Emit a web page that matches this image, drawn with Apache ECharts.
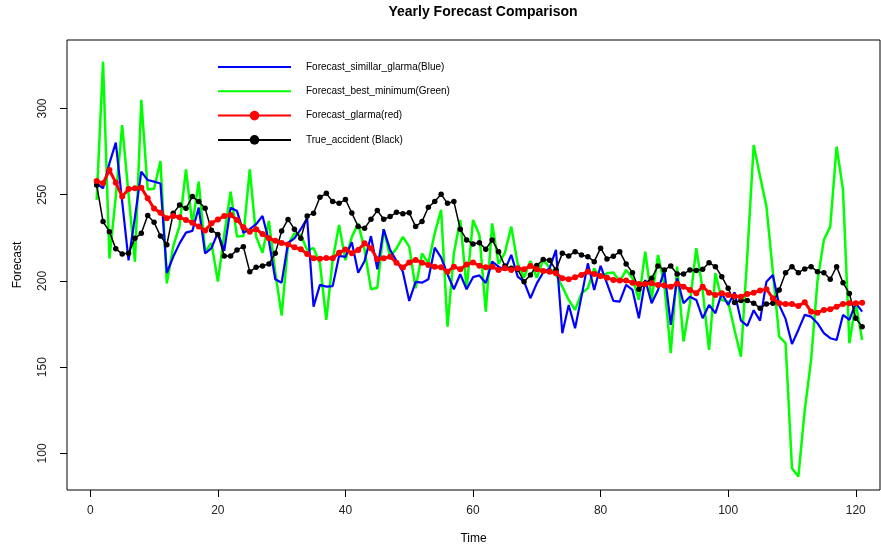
<!DOCTYPE html>
<html>
<head>
<meta charset="utf-8">
<script src="https://cdn.jsdelivr.net/npm/echarts@6/dist/echarts.min.js"></script>
<style>
  html, body { margin: 0; padding: 0; background: #fff; }
  #chart { width: 881px; height: 550px; }
</style>
</head>
<body>
<div id="chart"></div>
<script>
// Time index runs 1..121
const timeSteps = Array.from({ length: 121 }, (_, i) => i + 1);

const forecastSimillarGlarma = [
  256.6, 253.7, 268.2, 280.2, 246, 212, 237, 263.4, 258.5, 257.6,
  256.5, 204.6, 214, 221.8, 228, 229, 242.5, 216, 219, 228,
  217.4, 242.5, 240.6, 228, 230, 232.9, 237.7, 223.2, 201, 199,
  222, 224.7, 230, 236.3, 185.1, 197.7, 196.7, 197, 214.5, 214,
  222.5, 204.8, 211.6, 226, 206.8, 230, 218, 211.6, 205.3, 188.4,
  199.5, 199, 201, 219.3, 213.5, 203.9, 195.2, 203.9, 195.2, 202.2,
  203.2, 198.8, 211.2, 208.3, 206.4, 215.1, 202.5, 199.6, 190, 198.6,
  204.9, 207.3, 218, 169.7, 186.1, 172.6, 190.9, 210.2, 194.8, 208.8,
  198.6, 188.5, 188, 197.7, 194.8, 178.4, 200.6, 187.1, 194.8, 205.9,
  174.5, 201.5, 187.1, 190.9, 189, 178.4, 186.1, 181.3, 192.9, 186,
  193.4, 177, 174, 183, 177, 199.6, 203.5, 186, 178, 163.4,
  171.6, 180.3, 179.3, 175.5, 169.7, 166.8, 165.8, 180.3, 177.4, 187.1,
  182.2
];

const forecastBestMinimum = [
  247, 327, 213, 249, 290.4, 250, 211, 305, 253, 253.5,
  269.5, 198.6, 220, 232, 264.7, 232.5, 257.6, 217, 222, 199.6,
  226.8, 251.8, 225.7, 226, 264.7, 225.7, 216.4, 234.8, 205, 180,
  221, 227.6, 226.7, 218, 219, 210.2, 177.4, 212.2, 232.5, 212,
  225.5, 233.4, 218, 195.2, 196.1, 230, 214, 218.8, 225.5, 219.9,
  195.7, 216, 210.2, 227.6, 241.2, 173.5, 216, 235.4, 195.2, 235.4,
  226.7, 182.2, 233.4, 209.9, 216.4, 231.5, 209.9, 202, 211.6, 201.8,
  212.4, 207.5, 203.5, 196.7, 189, 183.2, 192.8, 195.8, 207.3, 201.5,
  204.5, 204.9, 199.6, 206.4, 201.5, 189, 217, 189, 215.1, 197.6,
  158.2, 208.3, 164.9, 187.1, 219, 194.8, 160, 204.5, 189, 188,
  171.6, 156.1, 215, 278.8, 260.5, 243.1, 205.4, 167.7, 163.9, 91.4,
  86.6, 125, 154.2, 200, 223.8, 231.5, 277.9, 252.8, 163.9, 187.1,
  165.8
];

const forecastGlarma = [
  258, 256.6, 264.3, 257, 248.9, 253.3, 253.7, 254.1, 248, 242,
  239.5, 236.3, 237.7, 236.9, 235.4, 233.8, 231.5, 229.2, 233.5, 235.6,
  237.7, 238.3, 235.4, 231.1, 228.6, 230, 227.2, 224.7, 223.3, 222,
  221.2, 219.5, 218.4, 215.7, 213.1, 212.9, 213.3, 213.1, 216.3, 218.2,
  216, 218, 221.8, 219, 212.6, 213.1, 214, 210.6, 207.8, 210.7,
  212.2, 210.6, 209.3, 208.3, 207.9, 205.4, 208.3, 206.8, 209.5, 210.7,
  208.8, 207.9, 208.3, 206.4, 207.3, 206.4, 207.3, 206.8, 208.7, 206.8,
  205.8, 205.4, 204.5, 201.5, 201, 202.1, 203.5, 205.4, 204, 202.9,
  201.8, 200.6, 200.2, 200.2, 199, 198.3, 198.3, 198.6, 197.7, 197.4,
  196.7, 198.4, 196.7, 194.8, 192.9, 196.7, 193.2, 191.9, 192.9, 191.9,
  191.1, 190.9, 192.5, 193.2, 194.4, 195.2, 190, 187.1, 186.7, 186.6,
  185.5, 187.7, 182.2, 181.6, 183.2, 183.6, 185.1, 186.7, 187.1, 187.1,
  187.4
];

const trueAccident = [
  255.7, 234.4, 228.6, 218.6, 215.7, 216, 224.7, 227.6, 238, 234,
  226, 221, 239.2, 244, 242.1, 248.9, 246, 242.1, 229.4, 227,
  214.5, 214.5, 218, 219.9, 205.4, 207.9, 208.7, 209.9, 216, 229,
  235.7, 230, 224.7, 237.7, 239.2, 248.5, 250.8, 246, 245, 247.2,
  239.4, 231.5, 230.5, 235.8, 240.8, 235.8, 237.3, 239.8, 239, 239.5,
  231.5, 234.4, 242.7, 246, 250.2, 245, 246, 230, 223.8, 221.4,
  222.2, 218.4, 223.8, 217, 208.7, 207.3, 206.8, 199.6, 203.5, 209,
  212.4, 212, 206.4, 216, 214.5, 217, 215.1, 214.1, 211.2, 219,
  212.8, 214.3, 217, 209.9, 204.8, 195.2, 198.6, 201.5, 208.7, 206.4,
  208.7, 204, 204, 206.4, 206, 206.8, 210.6, 208.3, 202.5, 195.7,
  187.5, 188.6, 188.6, 187.1, 184.2, 186.7, 187.1, 194.8, 204.8, 208.3,
  204.8, 207, 208.3, 205.4, 204.8, 201, 208.3, 199, 192.7, 178.4,
  173.5
];

const xTicks = [0, 20, 40, 60, 80, 100, 120];
const yTicks = [100, 150, 200, 250, 300];

const seriesNames = [
  'Forecast_simillar_glarma(Blue)',
  'Forecast_best_minimum(Green)',
  'Forecast_glarma(red)',
  'True_accident (Black)'
];

const pairs = (vals) => timeSteps.map((t, i) => [t, vals[i]]);
const FONT = '"Liberation Sans", Arial, sans-serif';

const chart = echarts.init(document.getElementById('chart'), null, { renderer: 'canvas' });

chart.setOption({
  animation: false,
  backgroundColor: '#ffffff',
  title: {
    text: 'Yearly Forecast Comparison',
    left: 478,
    top: 0,
    textAlign: 'center',
    textStyle: { fontFamily: FONT, fontSize: 14, fontWeight: 'bold', color: '#000' }
  },
  legend: {
    // plain line keys for the two unmarked forecasts, line + dot for the others
    data: [
      { name: seriesNames[0], itemStyle: { opacity: 0 } },
      { name: seriesNames[1], itemStyle: { opacity: 0 } },
      { name: seriesNames[2] },
      { name: seriesNames[3] }
    ],
    orient: 'vertical',
    left: 212,
    top: 57,
    itemWidth: 73,
    itemHeight: 12,
    itemGap: 14.3,
    textStyle: { fontFamily: FONT, fontSize: 10, color: '#000', padding: [0, 0, 0, 10] }
  },
  grid: {
    left: 67,
    top: 40,
    right: 1,
    bottom: 60,
    outerBoundsMode: 'none',
    show: true,
    borderColor: '#000',
    borderWidth: 1,
    backgroundColor: 'transparent'
  },
  xAxis: {
    type: 'value',
    min: -3.65,
    max: 123.8,
    name: 'Time',
    nameLocation: 'middle',
    nameGap: 43,
    nameTextStyle: { fontFamily: FONT, fontSize: 12, color: '#000' },
    axisLine: { show: false, onZero: false },
    splitLine: { show: false },
    axisTick: {
      show: true, inside: false, length: 7,
      lineStyle: { color: '#000' },
      customValues: xTicks
    },
    axisLabel: {
      customValues: xTicks,
      margin: 15,
      fontFamily: FONT, fontSize: 12, color: '#222'
    }
  },
  yAxis: {
    type: 'value',
    min: 78.8,
    max: 339.7,
    name: 'Forecast',
    nameLocation: 'middle',
    nameGap: 43,
    nameRotate: 90,
    nameTextStyle: { fontFamily: FONT, fontSize: 12, color: '#000' },
    axisLine: { show: false, onZero: false },
    splitLine: { show: false },
    axisTick: {
      show: true, inside: false, length: 7,
      lineStyle: { color: '#000' },
      customValues: yTicks
    },
    axisLabel: {
      customValues: yTicks,
      rotate: 90,
      margin: 18,
      fontFamily: FONT, fontSize: 12, color: '#222'
    }
  },
  series: [
    {
      name: seriesNames[1],
      type: 'line',
      data: pairs(forecastBestMinimum),
      symbol: 'none',
      lineStyle: { color: '#00ff00', width: 2.5 },
      itemStyle: { color: '#00ff00' },
      z: 2
    },
    {
      name: seriesNames[0],
      type: 'line',
      data: pairs(forecastSimillarGlarma),
      symbol: 'none',
      lineStyle: { color: '#0000ff', width: 2.2 },
      itemStyle: { color: '#0000ff' },
      z: 3
    },
    {
      name: seriesNames[3],
      type: 'line',
      data: pairs(trueAccident),
      symbol: 'circle',
      symbolSize: 5.5,
      lineStyle: { color: '#000000', width: 1.5 },
      itemStyle: { color: '#000000' },
      z: 4
    },
    {
      name: seriesNames[2],
      type: 'line',
      data: pairs(forecastGlarma),
      symbol: 'circle',
      symbolSize: 6,
      lineStyle: { color: '#ff0000', width: 3 },
      itemStyle: { color: '#ff0000' },
      z: 5
    }
  ]
});
</script>
</body>
</html>
